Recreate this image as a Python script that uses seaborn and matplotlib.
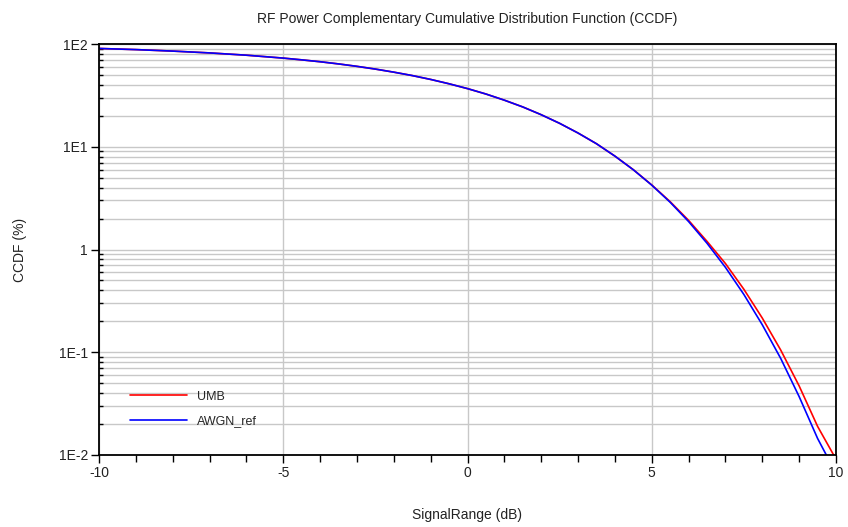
import numpy as np
import pandas as pd
import matplotlib
matplotlib.use("Agg")
import matplotlib.pyplot as plt
import matplotlib.ticker as mticker
import seaborn as sns

# CCDF curves: signal level above average power (dB) vs. probability (%)
awgn_x = [-10, -9, -8, -7, -6, -5, -4.5, -4, -3.5, -3, -2.5, -2, -1.5, -1,
          -0.5, 0, 0.5, 1, 1.5, 2, 2.5, 3, 3.5, 4, 4.5, 5,
          5.5, 6, 6.5, 7, 7.5, 8, 8.5, 9, 9.5, 9.75]
awgn_y = [90.5, 88.2, 85.3, 81.9, 77.8, 72.9, 70.1, 67.2, 64.0, 60.6, 57.0,
          53.2, 49.3, 45.2, 41.0, 36.8, 32.6, 28.4, 24.4, 20.5, 16.9, 13.6,
          10.7, 8.11, 5.97, 4.23, 2.88, 1.87, 1.15, 0.67, 0.365,
          0.185, 0.087, 0.037, 0.0145, 0.0098]

umb_x = [-10, -9, -8, -7, -6, -5, -4.5, -4, -3.5, -3, -2.5, -2, -1.5, -1,
         -0.5, 0, 0.5, 1, 1.5, 2, 2.5, 3, 3.5, 4, 4.5, 5,
         5.5, 6, 6.5, 7, 7.5, 8, 8.5, 9, 9.5, 9.95]
umb_y = [90.5, 88.2, 85.3, 81.9, 77.8, 72.9, 70.1, 67.2, 64.0, 60.6, 57.0,
         53.2, 49.3, 45.2, 41.0, 36.8, 32.6, 28.4, 24.4, 20.5, 16.9, 13.6,
         10.7, 8.11, 5.98, 4.25, 2.92, 1.92, 1.2, 0.73, 0.41,
         0.215, 0.105, 0.047, 0.019, 0.0098]

series_names = ["UMB", "AWGN_ref"]
series_colors = ["#ff0000", "#0000ff"]

x_ticks = [-10, -5, 0, 5, 10]
x_tick_labels = ["-10", "-5", "0", "5", "10"]
y_ticks = [1e-2, 1e-1, 1, 10, 100]
y_tick_labels = ["1E-2", "1E-1", "1", "1E1", "1E2"]

df = pd.concat([
    pd.DataFrame({"SignalRange (dB)": umb_x, "CCDF (%)": umb_y, "Trace": series_names[0]}),
    pd.DataFrame({"SignalRange (dB)": awgn_x, "CCDF (%)": awgn_y, "Trace": series_names[1]}),
])

sns.set_theme(style="white")
plt.rcParams["font.family"] = ["Liberation Sans", "DejaVu Sans"]

fig = plt.figure(figsize=(8.48, 5.27), dpi=100)
ax = fig.add_axes([99 / 848, 1 - 455 / 527, (836 - 99) / 848, (455 - 44) / 527])

ax.set_yscale("log")
ax.set_xlim(-10, 10)
ax.set_ylim(1e-2, 1e2)

# grid: vertical at major x ticks, horizontal at every decade subdivision
ax.yaxis.set_major_locator(mticker.FixedLocator(y_ticks))
ax.yaxis.set_minor_locator(mticker.LogLocator(base=10, subs=np.arange(2, 10)))
ax.yaxis.set_minor_formatter(mticker.NullFormatter())
ax.set_yticklabels(y_tick_labels)
ax.xaxis.set_major_locator(mticker.FixedLocator(x_ticks))
ax.set_xticklabels(x_tick_labels)
ax.xaxis.set_minor_locator(mticker.MultipleLocator(1))
ax.grid(which="major", axis="both", color="#c8c8c8", linewidth=1.0)
ax.grid(which="minor", axis="y", color="#c8c8c8", linewidth=1.0)
ax.set_axisbelow(True)

sns.lineplot(data=df, x="SignalRange (dB)", y="CCDF (%)", hue="Trace",
             palette=dict(zip(series_names, series_colors)), linewidth=1.2,
             ax=ax, legend=False, sort=False, estimator=None)

for s in ax.spines.values():
    s.set_color("black")
    s.set_linewidth(1.3)
    s.set_visible(True)

ax.tick_params(axis="x", which="major", direction="out", length=6, width=1,
               colors="black", labelsize=10, pad=2, bottom=True)
ax.tick_params(axis="x", which="minor", direction="out", length=5, width=1,
               colors="black", bottom=True)
ax.tick_params(axis="y", which="major", direction="out", length=6, width=1,
               colors="black", labelsize=10, pad=2, left=True)
ax.tick_params(axis="y", which="minor", direction="in", length=3, width=1,
               colors="black", left=True)
for lbl in ax.get_xticklabels() + ax.get_yticklabels():
    lbl.set_color("#222222")

ax.set_xlabel("SignalRange (dB)", fontsize=10, color="#222222", labelpad=20)
ax.set_ylabel("CCDF (%)", fontsize=10, color="#222222", labelpad=23)
ax.set_title("RF Power Complementary Cumulative Distribution Function (CCDF)",
             fontsize=10, color="#222222", pad=15)

# legend drawn with handles in the lower-left
handles = [plt.Line2D([], [], color=c, linewidth=1.2) for c in series_colors]
ax.legend(handles, series_names, loc="lower left", bbox_to_anchor=(0.042, 0.068),
          borderaxespad=0, borderpad=0, frameon=False, fontsize=9,
          handlelength=4.6, handletextpad=0.8, labelspacing=1.0)

fig.savefig("out.png", dpi=100)
